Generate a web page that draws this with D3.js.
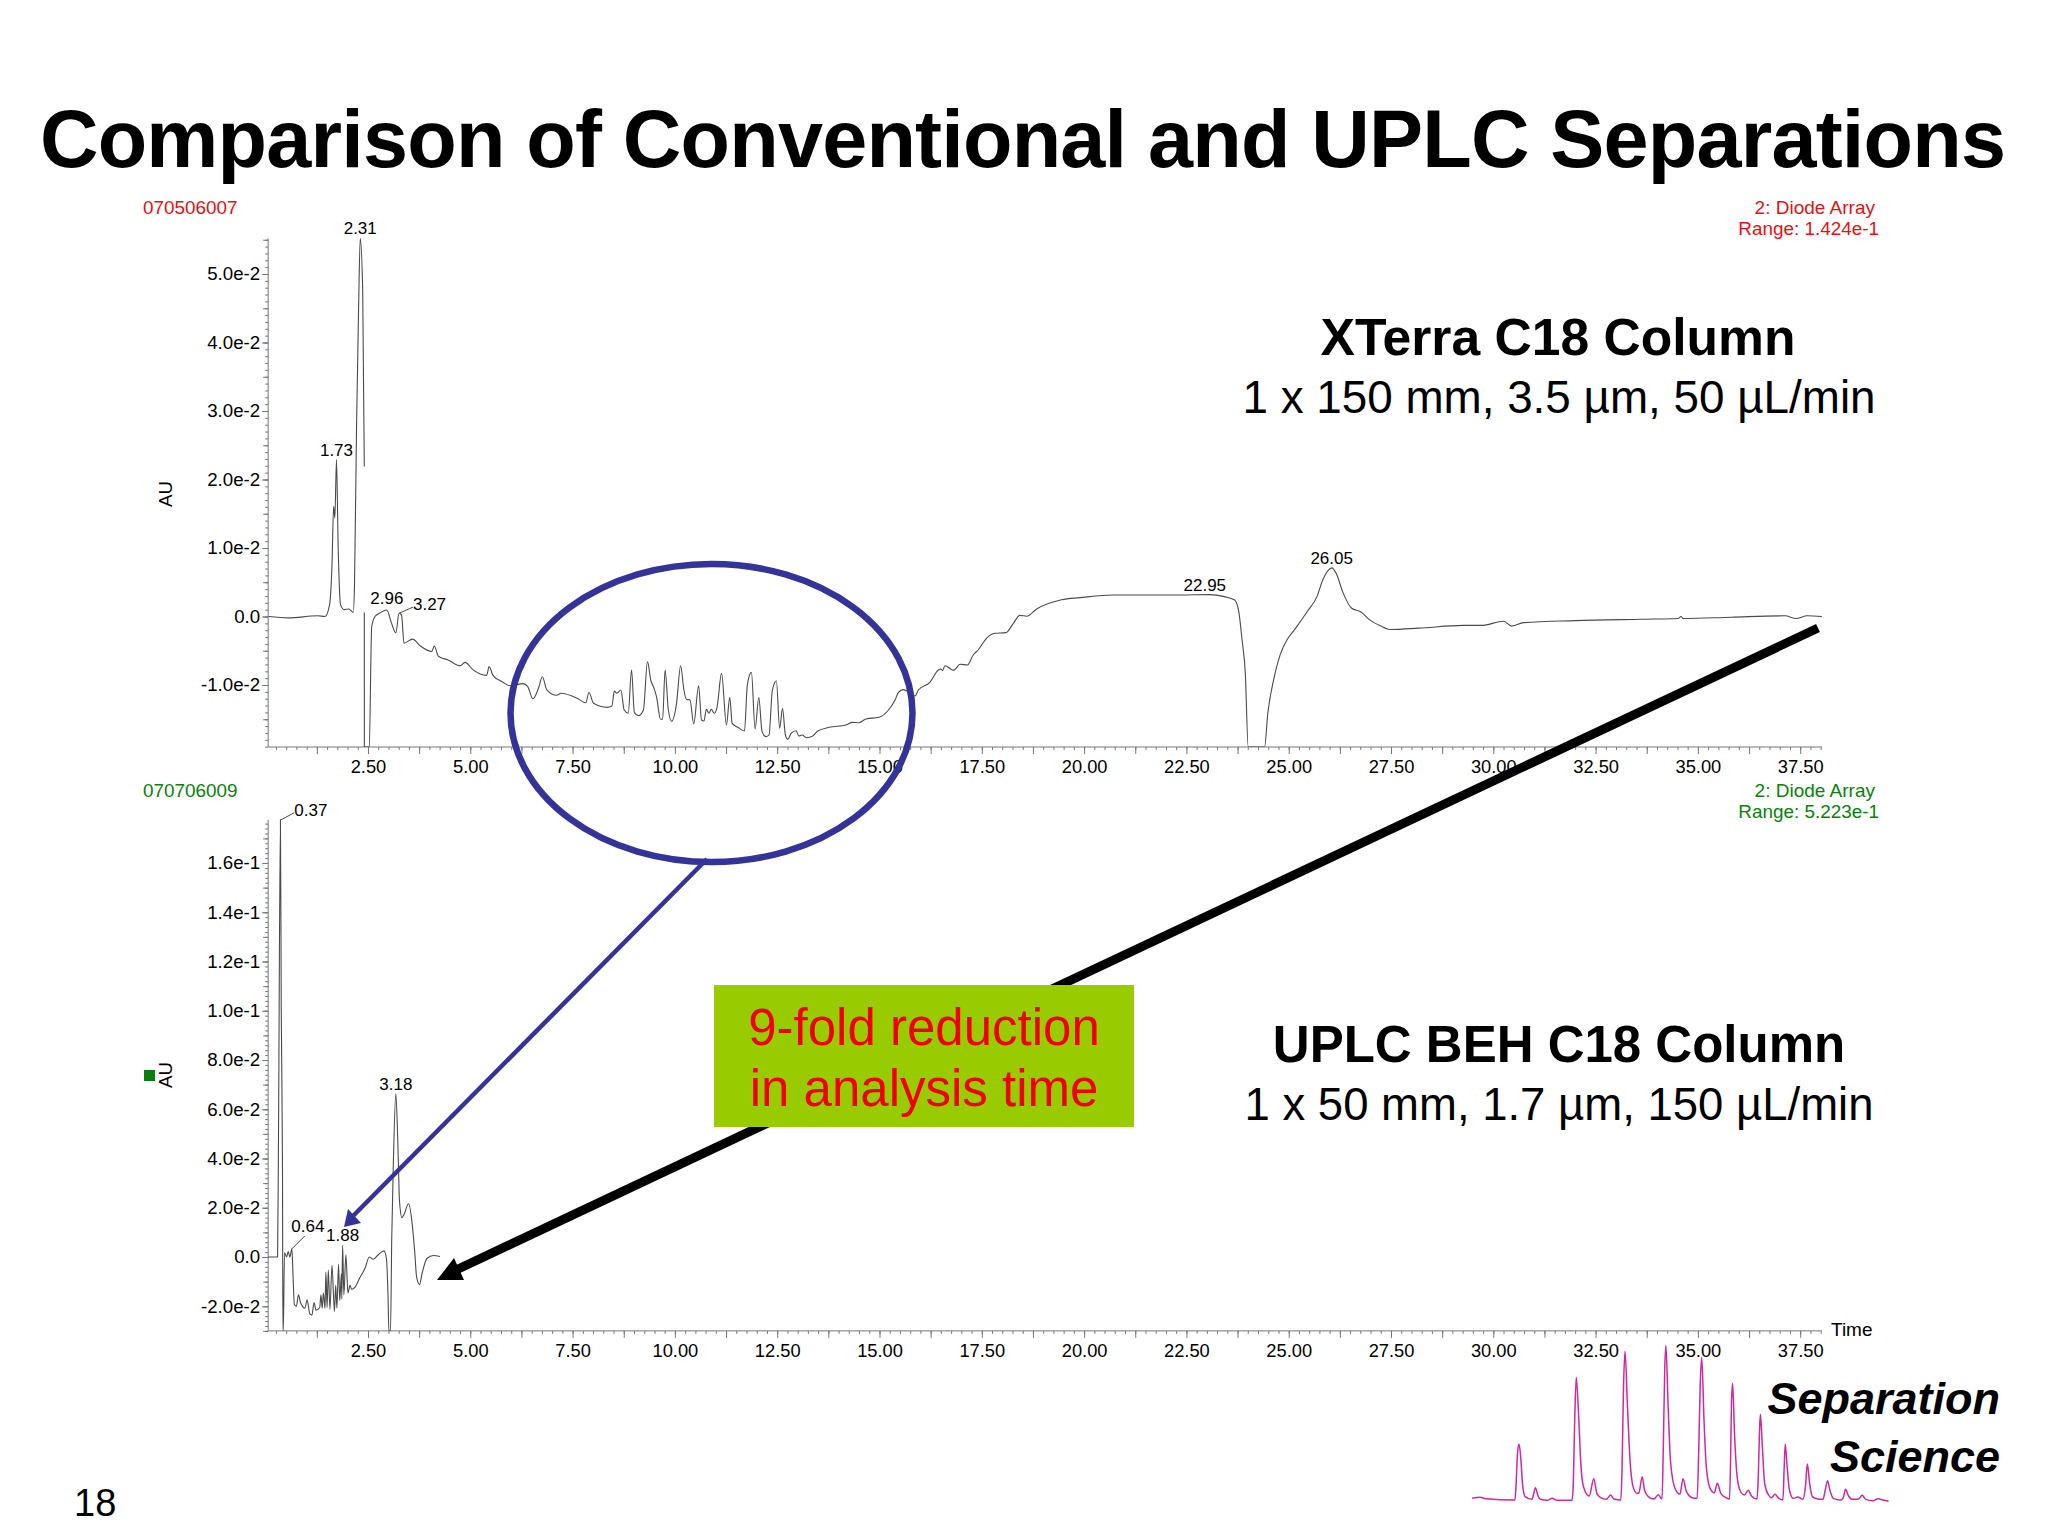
<!DOCTYPE html>
<html>
<head>
<meta charset="utf-8">
<script src="https://cdn.jsdelivr.net/npm/d3@7"></script>
<style>
body { margin: 0; background: #fff; }
text { font-family: "Liberation Sans", Arial, sans-serif; }
</style>
</head>
<body>
<svg id="slide" width="2048" height="1536"></svg>
<script>
// values are in units of 1e-2 AU, null is a gap in the printed trace
const topTime = [0.07,0.56,1.27,1.45,1.56,1.62,1.66,1.69,1.73,1.77,1.83,1.92,2.03,2.14,2.17,2.22,2.27,2.31,2.37,2.41,2.41,2.41,2.41,2.50,2.53,2.59,2.67,2.79,2.96,3.07,3.18,3.26,3.32,3.38,3.59,3.78,4.06,4.12,4.22,4.46,4.75,4.87,5.07,5.40,5.46,5.55,5.77,5.97,6.29,6.40,6.53,6.67,6.76,6.87,7.11,7.22,7.60,7.82,7.90,8.01,8.34,8.46,8.52,8.58,8.68,8.76,8.86,8.94,9.01,9.11,9.23,9.33,9.41,9.49,9.55,9.65,9.70,9.76,9.84,9.92,10.04,10.14,10.22,10.28,10.37,10.46,10.58,10.65,10.71,10.77,10.83,10.89,10.96,11.03,11.14,11.26,11.34,11.40,11.54,11.70,11.77,11.87,11.96,12.05,12.13,12.23,12.30,12.38,12.48,12.56,12.63,12.70,12.76,12.84,12.96,13.03,13.11,13.21,13.37,13.49,13.77,14.18,14.34,14.50,14.67,14.99,15.22,15.38,15.46,15.58,15.70,15.87,15.95,16.23,16.44,16.50,16.54,16.60,16.81,16.97,17.15,17.29,17.41,17.63,17.82,18.09,18.27,18.43,18.60,18.84,19.45,19.90,20.71,22.34,23.05,23.43,23.68,23.78,23.86,23.94,24.01,24.41,24.49,24.63,24.79,24.96,25.17,25.45,25.69,25.83,25.96,26.05,26.16,26.32,26.54,26.76,26.98,27.25,27.50,28.18,29.27,29.71,30.25,30.45,30.74,32.00,33.64,34.51,34.59,34.64,35.82,37.13,37.40,37.67,38.03];
const topAU = [0,-0.02,0.01,0,0.17,0.75,1.61,1.44,2.29,1.04,0.17,0.10,0.11,0.06,0.46,2.77,4.5,5.52,4.78,2.19,null,0.06,-1.905,-1.905,-1.9,-0.15,0,0.05,0.095,-0.09,-0.24,0.05,0.02,-0.39,-0.33,-0.43,-0.51,-0.43,-0.58,-0.635,-0.72,-0.67,-0.78,-0.86,-0.73,-0.855,-0.95,-1.01,-0.98,-1.02,-1.20,-1.04,-0.88,-1.07,-1.15,-1.12,-1.19,-1.26,-1.11,-1.267,-1.326,-1.306,-1.087,-1.12,-1.073,-1.365,-1.413,-0.781,-1.404,-1.448,-1.365,-0.659,-0.927,-1.049,-1.17,-1.501,-1.501,-0.781,-1.365,-1.53,-1.268,-0.718,-1.073,-1.209,-1.219,-1.569,-1.01,-1.511,-1.525,-1.355,-1.413,-1.355,-1.413,-1.326,-0.83,-1.584,-1.18,-1.56,-1.618,-1.671,-1.0,-0.815,-1.642,-1.185,-1.681,-1.754,-1.73,-1.083,-0.937,-1.632,-1.34,-1.73,-1.793,-1.705,-1.667,-1.744,-1.73,-1.769,-1.744,-1.671,-1.618,-1.584,-1.545,-1.55,-1.496,-1.472,-1.365,-1.219,-1.112,-1.068,-1.097,-1.16,-1.073,-0.961,-0.781,-0.766,-0.79,-0.718,-0.786,-0.698,-0.708,-0.562,-0.489,-0.309,-0.245,-0.236,-0.1,0.017,0.003,0.11,0.245,0.275,0.314,0.314,0.32,0.29,0.24,0.07,-0.34,-0.83,-1.905,-1.905,-1.41,-0.93,-0.56,-0.34,-0.17,0.07,0.29,0.53,0.67,0.71,0.63,0.36,0.12,0.07,-0.05,-0.14,-0.19,-0.17,-0.13,-0.13,-0.07,-0.14,-0.09,-0.06,-0.04,-0.03,0,-0.03,-0.01,0.01,-0.03,0.01,0];

const bottomTime = [0.06,0.29,0.31,0.36,0.38,0.41,0.42,0.43,0.46,0.51,0.55,0.59,0.64,0.67,0.70,0.75,0.80,0.85,0.96,1.01,1.08,1.13,1.18,1.23,1.32,1.35,1.38,1.41,1.45,1.47,1.50,1.53,1.57,1.62,1.68,1.71,1.74,1.78,1.81,1.85,1.86,1.88,1.91,1.96,2.01,2.06,2.10,2.18,2.30,2.43,2.53,2.63,2.75,2.89,2.95,2.99,3.01,3.05,3.08,3.12,3.18,3.23,3.27,3.33,3.38,3.49,3.57,3.64,3.69,3.76,3.82,3.94,4.10,4.26];
const bottomAU = [0,0,4.14,17.75,10.05,3.8,-3,-3,0.17,0,0.22,0,0.33,-0.84,-1.93,-2.0,-1.54,-1.85,-2.08,-1.74,-2.32,-2.36,-1.85,-2.16,-2.05,-1.54,-2.08,-1.46,-2.08,-0.61,-2.05,-0.53,-2.12,-0.34,-2.21,-1.15,-2.08,-0.3,-1.77,-0.68,-1.7,0.48,-1.54,0.09,-1.46,-1.15,-1.31,-1.23,-0.84,-0.45,0,-0.09,0.09,0.25,-0.06,-1.62,-3,-3,0.72,3.83,6.63,4.6,2.27,1.6,1.73,2.16,1.49,0.25,-0.84,-1.12,-0.68,-0.06,0.06,0.02];

const topPeaks = [1.73,2.31,2.96,3.27,22.95,26.05];
const topPeakAU = [2.29,5.52,0.12,0.05,0.32,0.71];
const bottomPeaks = [0.37,0.64,1.88,3.18];
const bottomPeakAU = [17.75,0.33,0.48,6.63];

const topYTicks = [-1,0,1,2,3,4,5];
const topYLabels = ['-1.0e-2','0.0','1.0e-2','2.0e-2','3.0e-2','4.0e-2','5.0e-2'];
const bottomYTicks = [-2,0,2,4,6,8,10,12,14,16];
const bottomYLabels = ['-2.0e-2','0.0','2.0e-2','4.0e-2','6.0e-2','8.0e-2','1.0e-1','1.2e-1','1.4e-1','1.6e-1'];
const xLabelTicks = [2.5,5,7.5,10,12.5,15,17.5,20,22.5,25,27.5,30,32.5,35,37.5];

// logo trace, arbitrary units
const logoPos = [58,78,95,170,173,177,181,186,190,197,215,224,230,237,255,268,280,320,323,327,331,337,343,350,365,377,385,395,410,421,430,448,451,455,459,465,472,480,490,495,504,510,520,535,546,556,559,563,566,572,578,590,603,611,620,635,648,652,656,660,666,672,682,693,701,710,725,733,736,738,741,746,752,760,772,782,790,805,808,812,814,819,825,835,843,852,862,873,876,879,884,890,900,912,925,932,937,943,950,965,978,984,990,996,1005,1025,1032,1037,1045,1055,1070,1081,1090,1110,1122,1135,1150];
const logoSignal = [5,8,4,0,40,140,168,120,50,10,2,37,15,2,-1,5,-1,-1,40,240,368,260,110,40,12,64,20,7,2,15,3,0,90,340,446,290,120,40,20,20,70,30,10,3,16,3,140,390,464,280,120,35,18,64,25,7,5,140,340,428,240,100,35,22,50,20,6,3,140,290,350,200,80,30,15,29,13,3,60,220,257,160,50,15,7,17,5,0,90,167,100,30,5,9,2,40,108,50,10,3,2,30,58,30,5,0,10,32,12,2,2,14,2,-2,4,0,-4];

const svg = d3.select('#slide');
const ink = '#4a4a4a';
const axisGray = '#777';

const x = d3.scaleLinear().domain([0, 2.5]).range([265.7, 368]);
const topY = d3.scaleLinear().domain([0, 5]).range([616.5, 274]);
const bottomY = d3.scaleLinear().domain([0, 16]).range([1257, 863]);

function tickRow(g, axis) {
    g.call(axis);
    g.select('.domain').remove();
    g.selectAll('line').attr('stroke', axisGray);
}

function drawChart(y, ymin, ymax, yTicks, yLabels, midStep, minorStep, times, values, clipId) {
    const axisY = y(ymin);
    const axisX = x(0.06);
    const g = svg.append('g');

    // x axis
    tickRow(g.append('g').attr('transform', `translate(0,${axisY})`),
        d3.axisBottom(x).tickValues(d3.range(1, 153).map(d => d / 4)).tickSize(3).tickFormat(''));
    tickRow(g.append('g').attr('transform', `translate(0,${axisY})`),
        d3.axisBottom(x).tickValues(d3.range(1, 31).map(d => d * 1.25)).tickSize(7).tickFormat(''));
    const xLab = g.append('g').attr('transform', `translate(0,${axisY})`);
    xLab.call(d3.axisBottom(x).tickValues(xLabelTicks).tickSize(0).tickFormat(d3.format('.2f')));
    xLab.select('.domain').remove();
    xLab.selectAll('text').attr('y', 13).attr('font-size', 18.3).attr('fill', '#000')
        .style('font-family', '"Liberation Sans"');

    g.append('line').attr('x1', axisX).attr('x2', x(38.03))
        .attr('y1', axisY).attr('y2', axisY).attr('stroke', axisGray);

    // y axis
    const minorVals = d3.range(Math.ceil(ymin / minorStep), Math.floor(ymax / minorStep) + 1).map(d => d * minorStep);
    const midVals = d3.range(Math.ceil(ymin / midStep), Math.floor(ymax / midStep) + 1).map(d => d * midStep);
    tickRow(g.append('g').attr('transform', `translate(${axisX},0)`),
        d3.axisLeft(y).tickValues(minorVals).tickSize(3).tickFormat(''));
    tickRow(g.append('g').attr('transform', `translate(${axisX},0)`),
        d3.axisLeft(y).tickValues(midVals).tickSize(5).tickFormat(''));
    const yLab = g.append('g').attr('transform', `translate(${axisX},0)`);
    yLab.call(d3.axisLeft(y).tickValues(yTicks).tickSize(6).tickPadding(2)
        .tickFormat((d, i) => yLabels[i]));
    yLab.select('.domain').remove();
    yLab.selectAll('line').attr('stroke', axisGray);
    yLab.selectAll('text').attr('font-size', 18.7).attr('fill', '#000')
        .style('font-family', '"Liberation Sans"');

    g.append('line').attr('x1', axisX).attr('x2', axisX)
        .attr('y1', y(ymax)).attr('y2', axisY).attr('stroke', axisGray);

    // trace
    svg.append('clipPath').attr('id', clipId).append('rect')
        .attr('x', axisX).attr('y', y(ymax) - 2)
        .attr('width', x(38.1) - axisX).attr('height', axisY - y(ymax) + 2);
    const line = d3.line()
        .defined(d => d !== null)
        .x((d, i) => x(times[i]))
        .y(d => y(d))
        .curve(d3.curveMonotoneX);
    g.append('path').datum(values)
        .attr('d', line)
        .attr('clip-path', `url(#${clipId})`)
        .attr('fill', 'none')
        .attr('stroke', ink)
        .attr('stroke-width', 1.1);
}

drawChart(topY, -1.905, 5.52, topYTicks, topYLabels, 0.5, 0.1, topTime, topAU, 'clipTop');
drawChart(bottomY, -3, 17.75, bottomYTicks, bottomYLabels, 1, 0.2, bottomTime, bottomAU, 'clipBottom');

// peak labels
function peakLabels(y, times, values, shifted) {
    times.forEach(function (t, i) {
        const s = shifted[t];
        const px = x(t);
        const py = y(values[i]);
        const tx = s ? px + s[0] : px;
        const ty = s ? py + s[1] : py - 4;
        if (s) {
            svg.append('line').attr('x1', px).attr('y1', py)
                .attr('x2', tx - s[2]).attr('y2', ty + s[3])
                .attr('stroke', ink).attr('stroke-width', 1);
        }
        svg.append('text').attr('x', tx).attr('y', ty)
            .attr('text-anchor', 'middle').attr('font-size', 17)
            .text(d3.format('.2f')(t));
    });
}
peakLabels(topY, topPeaks, topPeakAU, { 3.27: [30, -3, 16.5, -3] });
peakLabels(bottomY, bottomPeaks, bottomPeakAU, {
    0.37: [30, -4, 17, -3],
    0.64: [16, -17, 3, 4]
});

// plot headers
function label(txt, px, py, size, color, anchor, extra) {
    const t = svg.append('text').attr('x', px).attr('y', py).attr('font-size', size)
        .attr('fill', color || '#000').attr('text-anchor', anchor || 'start').text(txt);
    if (extra) extra(t);
    return t;
}
const red = '#e31212';
const green = '#0a820a';
label('070506007', 143, 214, 18.9, red);
label('2: Diode Array', 1875, 214, 19, red, 'end');
label('Range: 1.424e-1', 1879, 235, 18.9, red, 'end');
label('070706009', 143, 797, 18.9, green);
label('2: Diode Array', 1875, 797, 19, green, 'end');
label('Range: 5.223e-1', 1879, 818, 18.9, green, 'end');
label('Time', 1831, 1336, 19);

svg.append('text').attr('transform', 'translate(172,507) rotate(-90)').attr('font-size', 18.7).text('AU');
svg.append('text').attr('transform', 'translate(172,1088) rotate(-90)').attr('font-size', 18.7).text('AU');
svg.append('rect').attr('x', 144).attr('y', 1070).attr('width', 11).attr('height', 11).attr('fill', '#0a7d0a');

// title and column captions
label('Comparison of Conventional and UPLC Separations', 40, 167, 81, '#000', 'start', t => t.attr('font-weight', 'bold').attr('textLength', 1966));
label('XTerra C18 Column', 1558, 355, 51.6, '#000', 'middle', t => t.attr('font-weight', 'bold'));
label('1 x 150 mm, 3.5 µm, 50 µL/min', 1559, 413, 45.8, '#000', 'middle');
label('UPLC BEH C18 Column', 1559, 1062, 51, '#000', 'middle', t => t.attr('font-weight', 'bold'));
label('1 x 50 mm, 1.7 µm, 150 µL/min', 1559, 1120, 45.5, '#000', 'middle');
label('18', 74, 1516, 38);

// circled region and arrows
svg.append('ellipse').attr('cx', 711.5).attr('cy', 713).attr('rx', 201).attr('ry', 149)
    .attr('fill', 'none').attr('stroke', '#333399').attr('stroke-width', 6.5);
svg.append('line').attr('x1', 707).attr('y1', 859).attr('x2', 352).attr('y2', 1217)
    .attr('stroke', '#333399').attr('stroke-width', 4.5);
svg.append('polygon').attr('points', '344,1227 348,1209 361,1223').attr('fill', '#333399');

svg.append('line').attr('x1', 1818).attr('y1', 628).attr('x2', 456).attr('y2', 1270)
    .attr('stroke', '#000').attr('stroke-width', 9);
svg.append('polygon').attr('points', '437,1280 454,1258 464,1280').attr('fill', '#000');

// callout
svg.append('rect').attr('x', 714).attr('y', 985).attr('width', 420).attr('height', 142).attr('fill', '#99cc00');
label('9-fold reduction', 924, 1045, 51, '#f00000', 'middle');
label('in analysis time', 924, 1106, 51, '#f00000', 'middle');

// logo
const logoX = d3.scaleLinear().domain([0, 1568]).range([1450, 2048]);
const logoY = d3.scaleLinear().domain([0, 540]).range([1500, 1320]);
svg.append('path').datum(logoSignal)
    .attr('d', d3.line().x((d, i) => logoX(logoPos[i])).y(d => logoY(d)).curve(d3.curveMonotoneX))
    .attr('fill', 'none').attr('stroke', '#cc2a9e').attr('stroke-width', 1.5);
label('Separation', 2000, 1414, 45, '#000', 'end', t => t.attr('font-weight', 'bold').attr('font-style', 'italic'));
label('Science', 2000, 1472, 45, '#000', 'end', t => t.attr('font-weight', 'bold').attr('font-style', 'italic'));
</script>
</body>
</html>
